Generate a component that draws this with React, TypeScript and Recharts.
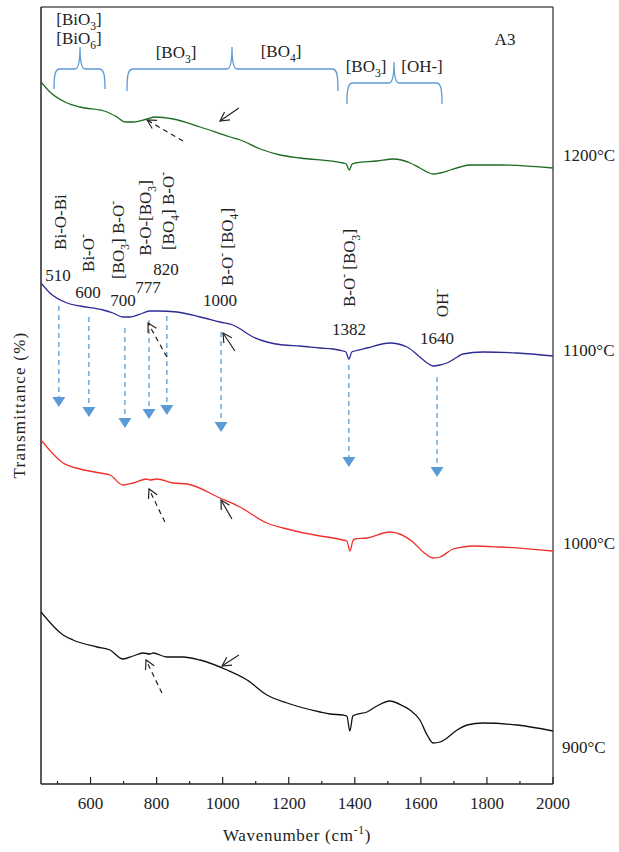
import React from 'react';
import { LineChart, Line, XAxis, YAxis, Customized } from 'recharts';

// ---------- data (wavenumber cm-1, transmittance in arbitrary offset units) ----------
const wn1200 = [450, 477, 529, 568, 650, 680, 705, 729, 771, 795, 850, 932, 1023, 1053, 1114, 1174, 1235, 1365, 1374, 1383, 1392, 1401, 1467, 1517, 1568, 1597, 1637, 1658, 1689, 1719, 1750, 1841, 2000];
const t1200 = [702, 692, 681, 677, 672, 667, 662, 662, 665, 667, 665, 657, 647, 644, 635, 629, 626, 621, 620, 614, 620, 621, 623, 625, 621, 616, 610, 611, 614, 617, 619, 619, 616];

const wn1100 = [450, 477, 529, 568, 638, 668, 698, 719, 759, 780, 801, 862, 932, 992, 1031, 1092, 1134, 1183, 1234, 1295, 1334, 1364, 1373, 1382, 1391, 1400, 1437, 1506, 1558, 1597, 1619, 1637, 1658, 1679, 1710, 1727, 1788, 1891, 2000];
const t1100 = [501, 491, 481, 478, 474, 471, 467, 467, 471, 473, 473, 472, 467, 462, 459, 447, 442, 439, 438, 436, 435, 433, 432, 425, 432, 433, 436, 441, 437, 427, 421, 418, 419, 421, 427, 430, 432, 431, 428];

const wn1000 = [450, 517, 568, 629, 659, 698, 729, 771, 780, 801, 850, 892, 992, 1052, 1134, 1183, 1295, 1316, 1364, 1376, 1385, 1394, 1400, 1437, 1506, 1576, 1607, 1637, 1658, 1697, 1727, 1758, 1839, 2000];
const t1000 = [344, 321, 315, 311, 309, 299, 301, 305, 304, 305, 301, 300, 286, 277, 261, 256, 248, 247, 244, 243, 233, 243, 245, 246, 252, 242, 232, 226, 227, 235, 237, 238, 237, 233];

const wn900 = [450, 517, 547, 620, 659, 698, 729, 759, 780, 789, 831, 880, 931, 1013, 1074, 1134, 1195, 1295, 1325, 1364, 1376, 1385, 1394, 1400, 1437, 1467, 1506, 1546, 1567, 1597, 1619, 1637, 1658, 1679, 1710, 1740, 1788, 1891, 2000];
const t900 = [172, 149, 144, 137, 134, 125, 128, 131, 130, 131, 127, 127, 124, 114, 104, 89, 81, 72, 70, 69, 68, 53, 68, 69, 72, 78, 83, 78, 74, 64, 49, 41, 42, 46, 54, 59, 61, 59, 53];

const xTicks = [500, 600, 700, 800, 900, 1000, 1100, 1200, 1300, 1400, 1500, 1600, 1700, 1800, 1900, 2000];

// peak markers: label, wavenumber of marker, arrow start level, arrow tip level
const peakLabels = ['510', '600', '700', '777', '820', '1000', '1382', '1640'];
const peakW = [504, 595, 704, 777, 831, 995, 1382, 1649];
const peakFrom = [478, 467, 456, 464, 468, 452, 419, 407];
const peakTo = [377, 367, 356, 365, 369, 352, 317, 307];

// black pointer arrows [fromW, fromT, tipW, tipT, dashed]
const pointerArrows: [number, number, number, number, boolean][] = [
  [1049, 676, 992, 663, false],
  [880, 643, 771, 664, true],
  [831, 427, 774, 461, true],
  [1037, 433, 1001, 451, false],
  [825, 262, 777, 295, true],
  [1028, 265, 995, 284, false],
  [816, 91, 768, 124, true],
  [1049, 129, 998, 118, false],
];

// ---------- layout ----------
const WIDTH = 619;
const HEIGHT = 852;
const L = 41, R = 553, T = 7, B = 784;
const XMIN = 450, XMAX = 2000, YMIN = 0, YMAX = 777;
const XAXIS_H = 30;
const FONT = "'Liberation Serif', 'Times New Roman', serif";
const FS = 17;
const BLUE = '#5b9bd5';

const sx = (w: number) => L + ((w - XMIN) / (XMAX - XMIN)) * (R - L);
const sy = (v: number) => B - ((v - YMIN) / (YMAX - YMIN)) * (B - T);

const toRows = (ws: number[], ts: number[]) => ws.map((w, i) => ({ w, t: ts[i] }));

type Seg = [string, string?];
function Rich({ x, y, segs, size = FS, anchor = 'middle', rotate = false, fill = '#222', spacing = 0 }: any) {
  let shift = 0;
  const kids = (segs as Seg[]).map(([t, k], i) => {
    const target = k === 'sub' ? size * 0.3 : k === 'sup' ? -size * 0.38 : 0;
    const dy = target - shift;
    shift = target;
    return (
      <tspan key={i} dy={dy} fontSize={k ? size * 0.68 : size}>
        {t}
      </tspan>
    );
  });
  const d = size * 0.35;
  return (
    <text x={x} y={y + d} textAnchor={anchor} fontFamily={FONT} fontSize={size} fill={fill}
      letterSpacing={spacing || undefined}
      transform={rotate ? `rotate(-90 ${x} ${y})` : undefined}>
      {kids}
    </text>
  );
}

function bracePath(x0: number, x1: number, xm: number, yH: number, yTip: number, yEnd: number) {
  const r = 6;
  return `M ${x0} ${yEnd} C ${x0} ${yH + 6} ${x0 + 1} ${yH} ${x0 + r} ${yH} L ${xm - 5} ${yH} Q ${xm} ${yH} ${xm} ${yTip} Q ${xm} ${yH} ${xm + 5} ${yH} L ${x1 - r} ${yH} C ${x1 - 1} ${yH} ${x1} ${yH + 6} ${x1} ${yEnd}`;
}

function Arrow({ x1, y1, x2, y2, dashed }: any) {
  const ang = Math.atan2(y2 - y1, x2 - x1);
  const len = 10;
  const spread = 0.5;
  const ax = x2 - len * Math.cos(ang - spread);
  const ay = y2 - len * Math.sin(ang - spread);
  const bx = x2 - len * Math.cos(ang + spread);
  const by = y2 - len * Math.sin(ang + spread);
  return (
    <g stroke="#222" strokeWidth={1.2} fill="none">
      <line x1={x1} y1={y1} x2={x2} y2={y2} strokeDasharray={dashed ? '5 4' : undefined} />
      <polyline points={`${ax},${ay} ${x2},${y2} ${bx},${by}`} />
    </g>
  );
}

const nameSegs: Seg[][] = [
  [['Bi-O-Bi']],
  [['Bi-O'], ['-', 'sup']],
  [['[BO'], ['3', 'sub'], ['] B-O'], ['-', 'sup']],
  [['B-O-[BO'], ['3', 'sub'], [']']],
  [['[BO'], ['4', 'sub'], ['] B-O'], ['-', 'sup']],
  [['B-O'], ['-', 'sup'], [' [BO'], ['4', 'sub'], [']']],
  [['B-O'], ['-', 'sup'], [' [BO'], ['3', 'sub'], [']']],
  [['OH'], ['-', 'sup']],
];
const namePos = [[60, 222], [88, 253], [118, 240], [145, 218], [168, 211], [227, 247], [349, 268], [442, 303]];
const numPos = [[58, 275], [88, 292], [123, 300], [148, 287], [166, 269], [220, 300], [349, 329], [437, 338]];

function Overlay() {
  return (
    <g>
      {/* frame */}
      <line x1={L} y1={T} x2={R} y2={T} stroke="#555" strokeWidth={1.5} />
      <line x1={R} y1={T} x2={R} y2={B} stroke="#555" strokeWidth={1.5} />
      <line x1={L} y1={T} x2={L} y2={B} stroke="#222" strokeWidth={1.5} />

      {/* braces */}
      <g stroke={BLUE} strokeWidth={1.3} fill="none">
        <path d={bracePath(54, 105, 80, 69, 47, 89)} />
        <path d={bracePath(127, 338, 232, 69, 47, 91)} />
        <path d={bracePath(347, 442, 394, 83, 62, 104)} />
      </g>
      <Rich x={79} y={19} segs={[['[BiO'], ['3', 'sub'], [']']]} />
      <Rich x={79} y={38} segs={[['[BiO'], ['6', 'sub'], [']']]} />
      <Rich x={176} y={52} segs={[['[BO'], ['3', 'sub'], [']']]} />
      <Rich x={281} y={51} segs={[['[BO'], ['4', 'sub'], [']']]} />
      <Rich x={366} y={66} segs={[['[BO'], ['3', 'sub'], [']']]} />
      <Rich x={422} y={66} segs={[['[OH-]']]} />
      <Rich x={505} y={39} segs={[['A3']]} />

      {/* peak markers */}
      {peakW.map((w, i) => {
        const x = sx(w);
        const yA = sy(peakFrom[i]);
        const yB = sy(peakTo[i]);
        return (
          <g key={'p' + i}>
            <line x1={x} y1={yA} x2={x} y2={yB - 9} stroke={BLUE} strokeWidth={1.3} strokeDasharray="5 4" />
            <polygon points={`${x - 6.5},${yB - 10} ${x + 6.5},${yB - 10} ${x},${yB}`} fill={BLUE} />
          </g>
        );
      })}
      {peakLabels.map((lab, i) => (
        <Rich key={'n' + i} x={numPos[i][0]} y={numPos[i][1]} segs={[[lab]]} />
      ))}
      {nameSegs.map((s, i) => (
        <Rich key={'m' + i} x={namePos[i][0]} y={namePos[i][1]} segs={s} rotate />
      ))}

      {/* black pointer arrows */}
      {pointerArrows.map(([fw, ft, tw, tt, d], i) => (
        <Arrow key={'a' + i} x1={sx(fw)} y1={sy(ft)} x2={sx(tw)} y2={sy(tt)} dashed={d} />
      ))}

      {/* temperature labels */}
      <Rich x={563} y={155} anchor="start" segs={[['1200°C']]} />
      <Rich x={563} y={350} anchor="start" segs={[['1100°C']]} />
      <Rich x={563} y={543} anchor="start" segs={[['1000°C']]} />
      <Rich x={562} y={747} anchor="start" segs={[['900°C']]} />

      {/* axis titles */}
      <Rich x={297} y={835} size={17} spacing={0.7} segs={[['Wavenumber (cm'], ['-1', 'sup'], [')']]} />
      <Rich x={19} y={405} size={17} spacing={1.2} rotate segs={[['Transmittance (%)']]} />
    </g>
  );
}

function XTick(props: any) {
  const { x, payload } = props;
  const v = payload.value;
  const major = v % 200 === 0;
  return (
    <g>
      <line x1={x} y1={B} x2={x} y2={B - (major ? 7 : 3)} stroke="#222" strokeWidth={1.2} />
      {major && (
        <text x={x} y={B + 25} textAnchor="middle" fontFamily={FONT} fontSize={FS} fill="#222">
          {v}
        </text>
      )}
    </g>
  );
}

export default function App() {
  return (
    <div style={{ position: 'absolute', left: 0, top: 0, width: WIDTH, height: HEIGHT, background: '#fff' }}>
      <LineChart width={WIDTH} height={HEIGHT} margin={{ top: T, right: WIDTH - R, bottom: HEIGHT - B - XAXIS_H, left: L }}>
        <XAxis
          type="number"
          dataKey="w"
          domain={[XMIN, XMAX]}
          ticks={xTicks}
          allowDataOverflow
          height={XAXIS_H}
          tickSize={0}
          tickMargin={0}
          tickLine={false}
          axisLine={{ stroke: '#222', strokeWidth: 1.5 }}
          tick={<XTick />}
          interval={0}
        />
        <YAxis type="number" domain={[YMIN, YMAX]} hide allowDataOverflow />
        <Line data={toRows(wn1200, t1200)} dataKey="t" type="monotone" stroke="#1d6a1f" strokeWidth={1.3} dot={false} isAnimationActive={false} />
        <Line data={toRows(wn1100, t1100)} dataKey="t" type="monotone" stroke="#2e2a94" strokeWidth={1.3} dot={false} isAnimationActive={false} />
        <Line data={toRows(wn1000, t1000)} dataKey="t" type="monotone" stroke="#f2302a" strokeWidth={1.3} dot={false} isAnimationActive={false} />
        <Line data={toRows(wn900, t900)} dataKey="t" type="monotone" stroke="#111111" strokeWidth={1.3} dot={false} isAnimationActive={false} />
        <Customized component={<Overlay />} />
      </LineChart>
    </div>
  );
}
